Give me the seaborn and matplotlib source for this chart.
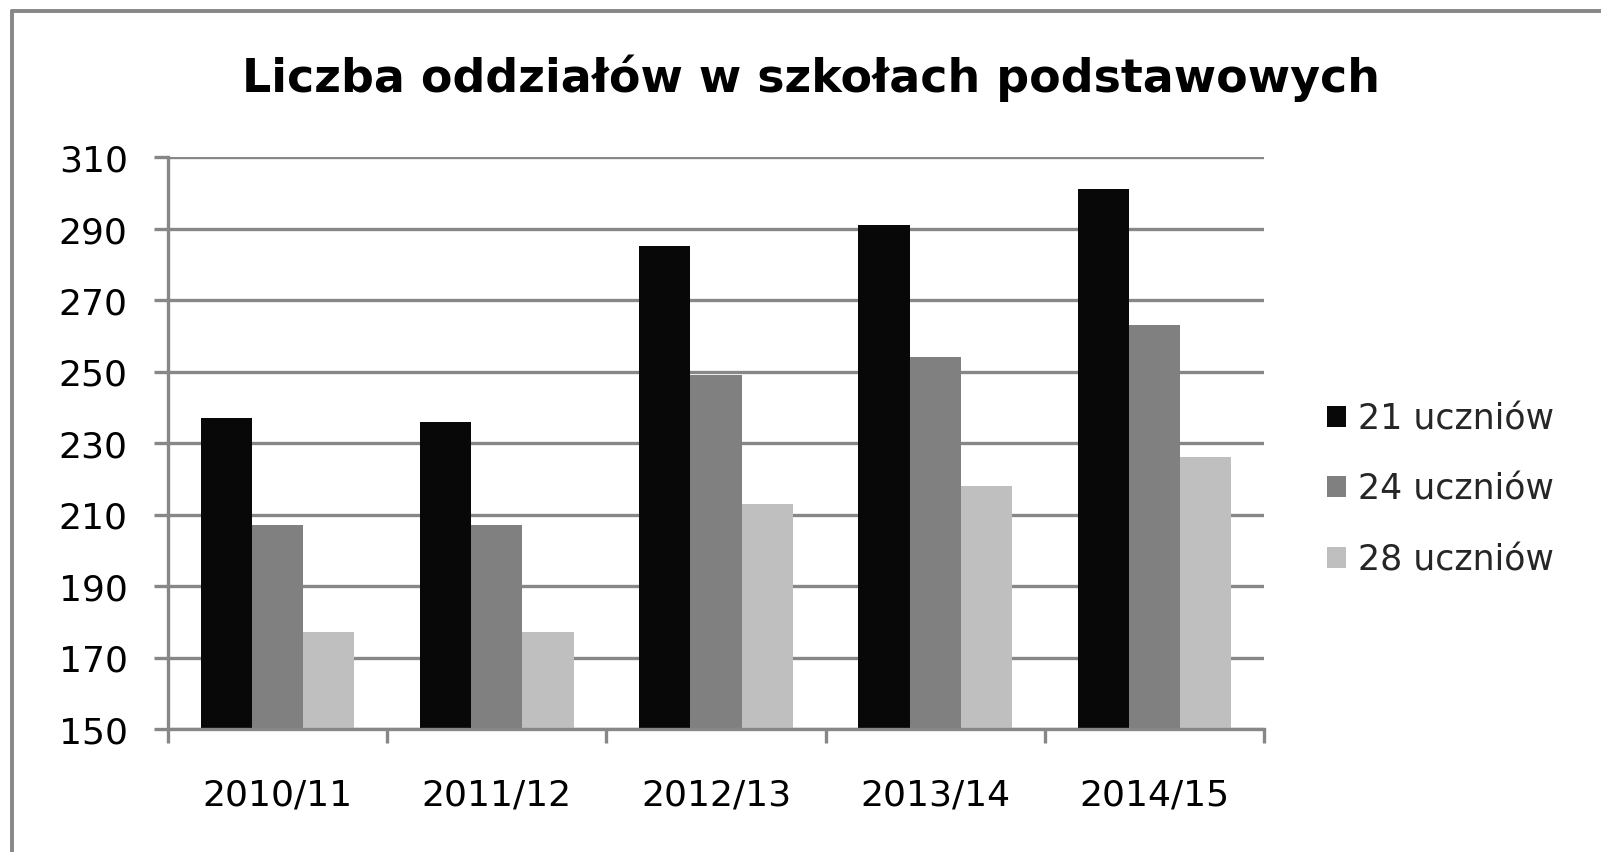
import numpy as np
import pandas as pd
import matplotlib
matplotlib.use("Agg")
import matplotlib.pyplot as plt
import seaborn as sns
from matplotlib.lines import Line2D

# data
years = ["2010/11", "2011/12", "2012/13", "2013/14", "2014/15"]
series = ["21 uczniów", "24 uczniów", "28 uczniów"]
u21 = [237, 236, 285, 291, 301]
u24 = [207, 207, 249, 254, 263]
u28 = [177, 177, 213, 218, 226]
colors = ["#080808", "#808080", "#bfbfbf"]
title = "Liczba oddziałów w szkołach podstawowych"

df = pd.DataFrame({
    "rok": years * 3,
    "grupa": [series[0]] * 5 + [series[1]] * 5 + [series[2]] * 5,
    "liczba": u21 + u24 + u28,
})

sns.set_theme(style="white")
plt.rcParams["font.family"] = ["DejaVu Sans"]

W, H = 1601, 853
fig = plt.figure(figsize=(W / 100, H / 100), dpi=100)
fig.patch.set_facecolor("white")
ax = fig.add_axes([168 / W, 1 - 730 / H, (1264 - 168) / W, (730 - 158) / H])

sns.barplot(data=df, x="rok", y="liczba", hue="grupa", palette=colors,
            width=0.7, saturation=1, gap=0, linewidth=0, ax=ax, legend=True)

grey = "#878787"
ax.set_ylim(150, 310)
ax.set_yticks(np.arange(150, 311, 20))
ax.set_xlim(-0.5, 4.5)
ax.yaxis.grid(True, color=grey, lw=2.4)
ax.set_axisbelow(True)
for s in ["top", "right"]:
    ax.spines[s].set_visible(False)
for s in ["left", "bottom"]:
    ax.spines[s].set_color(grey)
    ax.spines[s].set_linewidth(2.4)
ax.set_xlabel("")
ax.set_ylabel("")

ax.tick_params(axis="y", direction="out", length=10, width=2.4, color=grey,
               labelsize=26, pad=19, left=True)
ax.set_xticks(np.arange(-0.5, 4.6, 1), minor=True)
ax.tick_params(axis="x", which="major", length=0, labelsize=26, pad=35)
ax.tick_params(axis="x", which="minor", direction="out", length=10, width=2.4,
               color=grey, bottom=True)
for lab in ax.get_xticklabels() + ax.get_yticklabels():
    lab.set_color("black")

ax.legend(loc="center left", bbox_to_anchor=(1327 / W, 1 - 490 / H),
          bbox_transform=fig.transFigure, frameon=False, fontsize=25,
          handlelength=0.55, handleheight=0.55, handletextpad=0.35,
          labelspacing=1.05, borderpad=0, borderaxespad=0)

fig.text(811 / W, 1 - 92 / H, title, ha="center", va="baseline",
         fontsize=33, fontweight="bold", color="black")

# chart frame (only top and left edges visible)
fig.add_artist(Line2D([12 / W, 1.0], [1 - 12 / H, 1 - 12 / H],
                      transform=fig.transFigure, color=grey, lw=2.8))
fig.add_artist(Line2D([12 / W, 12 / W], [0.0, 1 - 12 / H],
                      transform=fig.transFigure, color=grey, lw=2.8))

fig.savefig("out.png", dpi=100, facecolor="white")
